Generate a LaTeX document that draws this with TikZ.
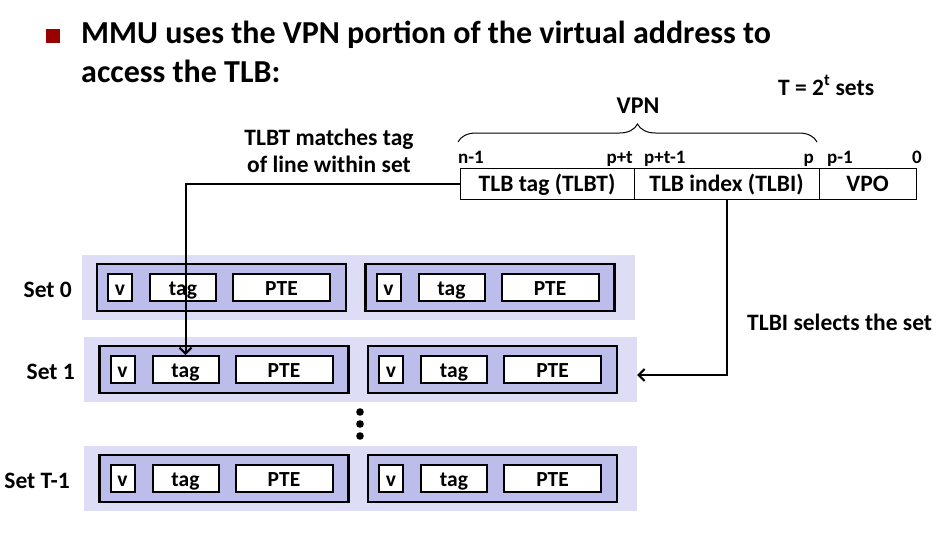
\documentclass[tikz,border=0pt]{standalone}
\usepackage{fontspec}
\setmainfont{Carlito}
\usepackage{tikz}
\usetikzlibrary{arrows,arrows.meta,positioning,decorations.pathreplacing}
\usepackage{xcolor}

\definecolor{bandcol}{RGB}{221,221,245}
\definecolor{linecol}{RGB}{189,189,236}
\definecolor{bulletcol}{RGB}{153,0,0}

\tikzset{
  lbl/.style={font=\fontsize{23.5}{27}\selectfont\bfseries, inner sep=0pt},
  bit/.style={font=\fontsize{19}{21}\selectfont\bfseries, inner sep=0pt},
  field/.style={draw, line width=1pt, outer sep=0pt, inner sep=0pt, minimum height=31pt,
    text height=15pt, text depth=0pt, font=\fontsize{23.5}{27}\selectfont\bfseries},
  band/.style={fill=bandcol, minimum width=553pt, minimum height=65pt, inner sep=0pt},
  tlbline/.style={draw, line width=2.6pt, fill=linecol, minimum width=249pt, minimum height=47pt, inner sep=0pt},
  cell/.style={draw, line width=2pt, fill=white, minimum height=27pt, inner sep=0pt,
    text height=17pt, text depth=1pt, font=\fontsize{21.5}{24}\selectfont\bfseries},
  conn/.style={line width=2pt, -{Straight Barb[length=6pt,width=12pt]}}
}

\begin{document}
\begin{tikzpicture}[x=1pt,y=-1pt]
\useasboundingbox (0,0) rectangle (945,538);
% heading
\node[fill=bulletcol, minimum size=14pt, inner sep=0pt] (bullet) at (53,36) {};
\node[font=\fontsize{32}{40}\selectfont\bfseries, inner sep=0pt, anchor=base west] (head1) at (81,43) {MMU uses the VPN portion of the virtual address to};
\node[font=\fontsize{32}{40}\selectfont\bfseries, inner sep=0pt, anchor=base west] (head2) at (81,82) {access the TLB:};
\node[lbl, anchor=base west] (nsets) at (778,95) {T = 2\textsuperscript{t} sets};

% virtual address
\node[field, minimum width=174pt] (tlbt) at (547,183.5) {TLB tag (TLBT)};
\node[field, minimum width=185pt, right=0pt of tlbt] (tlbi) {TLB index (TLBI)};
\node[field, minimum width=97pt, right=0pt of tlbi] (vpo) {VPO};
\node[bit, anchor=base west] (bitn) at (458,163) {n-1};
\node[bit, anchor=base east] (bitpt) at (633,163) {p+t};
\node[bit, anchor=base west] (bitptm) at (644,163) {p+t-1};
\node[bit, anchor=base east] (bitp) at (814,163) {p};
\node[bit, anchor=base west] (bitpm) at (827,163) {p-1};
\node[bit, anchor=base east] (bitz) at (922,163) {0};
\draw[decorate, decoration={brace, amplitude=18pt}, line width=1pt]
  ([shift={(-2pt,26pt)}]tlbt.north west) -- ([shift={(-2pt,26pt)}]tlbi.north east);
\node[font=\fontsize{24}{28}\selectfont\bfseries, inner sep=0pt, anchor=base] (vpn) at (638,113) {VPN};

% TLB sets
\foreach \n/\cy/\dx/\lx/\lab in {0/287.5/0/72/Set 0, 1/369.5/2.5/75/Set 1, T/478.5/2.5/70/Set T-1} {
  \node[band] (set\n) at (358+\dx,\cy) {};
  \node[lbl, anchor=base east] (lab\n) at (\lx,\cy+10) {\lab};
  \foreach \w/\off in {a/-136.5, b/132} {
    \node[tlbline] (line\n\w) at ([xshift=\off pt]set\n) {};
    \node[cell, minimum width=24pt] (v\n\w) at ([xshift=-101.5pt]line\n\w) {v};
    \node[cell, minimum width=66pt] (tag\n\w) at ([xshift=-38.5pt]line\n\w) {tag};
    \node[cell, minimum width=97pt] (pte\n\w) at ([xshift=60pt]line\n\w) {PTE};
  }
}
\foreach \d in {412,424,436}
  \fill (360,\d) circle (3.8pt);

% connectors
\node[lbl, align=center] (matchtxt) at (329,151) {TLBT matches tag\\of line within set};
\node[lbl, anchor=base west] (seltxt) at (747,330) {TLBI selects the set};
\draw[conn] (tlbt.west) -| (tag1a.north);
\draw[conn] (tlbi.south) |- ([yshift=-5.5pt]set1.east);
\end{tikzpicture}
\end{document}
